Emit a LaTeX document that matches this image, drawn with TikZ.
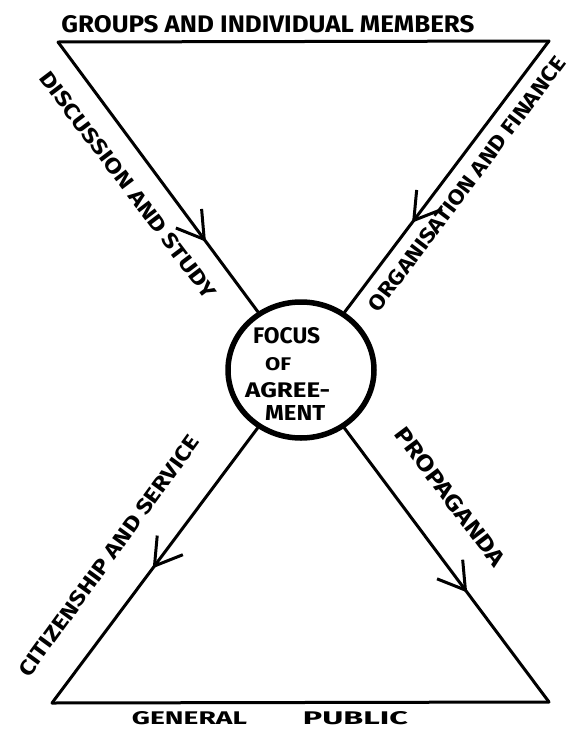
\documentclass[tikz,border=0pt]{standalone}
\usepackage{fontspec}
\setmainfont{Fira Sans}
\usetikzlibrary{decorations.markings,arrows.meta,shapes.geometric}
\newcommand{\fitbox}[3]{\resizebox{#1}{#2}{\bfseries #3}}
\tikzset{
  edge/.style={line width=3pt, line cap=round, line join=round},
  midarrow/.style={postaction={decorate}, decoration={markings,
      mark=at position #1 with {\arrow{Straight Barb[length=26pt,width=32pt,line width=3pt]}}}},
  lbl/.style={inner sep=0pt},
  ftxt/.style={font=\fontsize{18}{27}\selectfont, inner sep=0pt, align=left},
}
\begin{document}
\begin{tikzpicture}[x=1pt,y=-1pt]
  \useasboundingbox (0,0) rectangle (570,734);
  \coordinate (tl) at (58,42);
  \coordinate (tr) at (549,41);
  \coordinate (bl) at (52,703);
  \coordinate (br) at (549,702);
  \node[draw, ellipse, line width=5.5pt, minimum width=146pt, minimum height=136pt, inner sep=0pt] (focus) at (301,370) {};
  \node[ftxt, anchor=north west] (ftext) at (245,327)
    {\hspace{8pt}\fitbox{67pt}{16pt}{FOCUS}\\
     \hspace{20pt}\fitbox{26pt}{13pt}{OF}\\
     \fitbox{85pt}{15pt}{AGREE-}\\[-4pt]
     \hspace{20pt}\fitbox{60pt}{15pt}{MENT}};

  \draw[edge] (tl) -- (tr);
  \draw[edge] (bl) -- (br);
  \draw[edge, midarrow=0.74] (tl) -- (focus);
  \draw[edge, midarrow=0.67] (tr) -- (focus);
  \draw[edge, midarrow=0.51] (focus) -- (bl);
  \draw[edge, midarrow=0.60] (focus) -- (br);

  \node[lbl] (title) at (268,24) {\fitbox{413pt}{17pt}{GROUPS AND INDIVIDUAL MEMBERS}};
  \node[lbl] (public) at (270,718) {\fitbox{115pt}{13pt}{GENERAL}\hspace{56pt}\fitbox{105pt}{13pt}{PUBLIC}};
  \node[lbl, rotate=-53] (disc) at (128,185) {\fitbox{278pt}{15pt}{DISCUSSION AND STUDY}};
  \node[lbl, rotate=53] (org) at (467,184) {\fitbox{312pt}{15pt}{ORGANISATION AND FINANCE}};
  \node[lbl, rotate=54] (cit) at (109,556) {\fitbox{292pt}{15pt}{CITIZENSHIP AND SERVICE}};
  \node[lbl, rotate=-53] (prop) at (450,497) {\fitbox{168pt}{16pt}{PROPAGANDA}};
\end{tikzpicture}
\end{document}
